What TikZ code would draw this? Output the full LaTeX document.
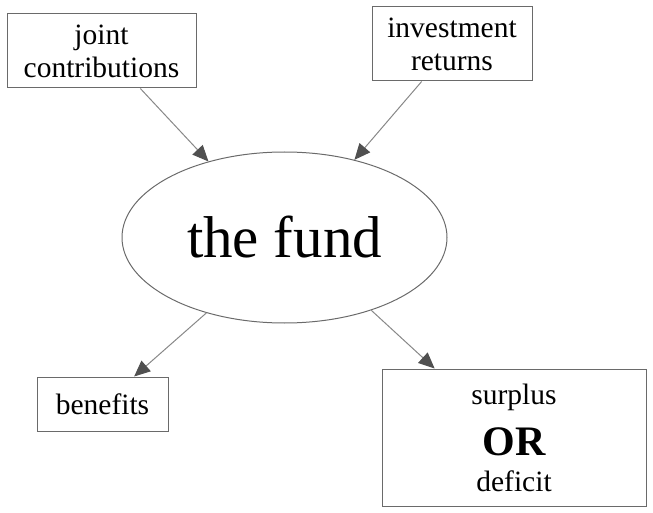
\documentclass[tikz,border=0pt]{standalone}
\usepackage{fontspec}
\setmainfont{Liberation Serif}
\usetikzlibrary{arrows.meta,shapes.geometric}
\definecolor{boxline}{HTML}{6A6A6A}
\definecolor{arrowline}{HTML}{888888}
\definecolor{arrowhead}{HTML}{505050}
\tikzset{
  box/.style={draw=boxline, line width=1pt, rectangle, inner sep=0pt, align=center,
    font=\fontsize{29.5}{33}\selectfont},
  fundshape/.style={draw=boxline, line width=1pt, ellipse, inner sep=0pt,
    font=\fontsize{59}{66}\selectfont},
  flow/.style={draw=arrowline, line width=1pt,
    -{Triangle[length=16pt,width=14pt,fill=arrowhead,color=arrowhead]}}
}
\begin{document}
\begin{tikzpicture}[x=1pt,y=-1pt]
\useasboundingbox (0,0) rectangle (653,513);
\node[box, minimum width=189pt, minimum height=74pt] (j) at (101.5,51) {joint\\contributions};
\node[box, minimum width=160pt, minimum height=74pt] (i) at (452,44) {investment\\returns};
\node[fundshape, minimum width=325pt, minimum height=171pt] (f) at (284.5,237.5) {the fund};
\node[box, minimum width=264pt, minimum height=137pt, font=\fontsize{29.5}{34}\selectfont] (s) at (514,437.5)
  {surplus\\[16pt]{\fontsize{42}{44}\selectfont\bfseries OR}\\[2pt]deficit};
\node[box, minimum width=131pt, minimum height=54pt] (b) at (102.5,404) {benefits};
\draw[flow] (j.-44.6) -- (f.135.4);
\draw[flow] (i.-129) -- (f.48.5);
\draw[flow] (f.-136.8) -- (b.41.5);
\draw[flow] (f.-40.7) -- (s.139.8);
\end{tikzpicture}
\end{document}
